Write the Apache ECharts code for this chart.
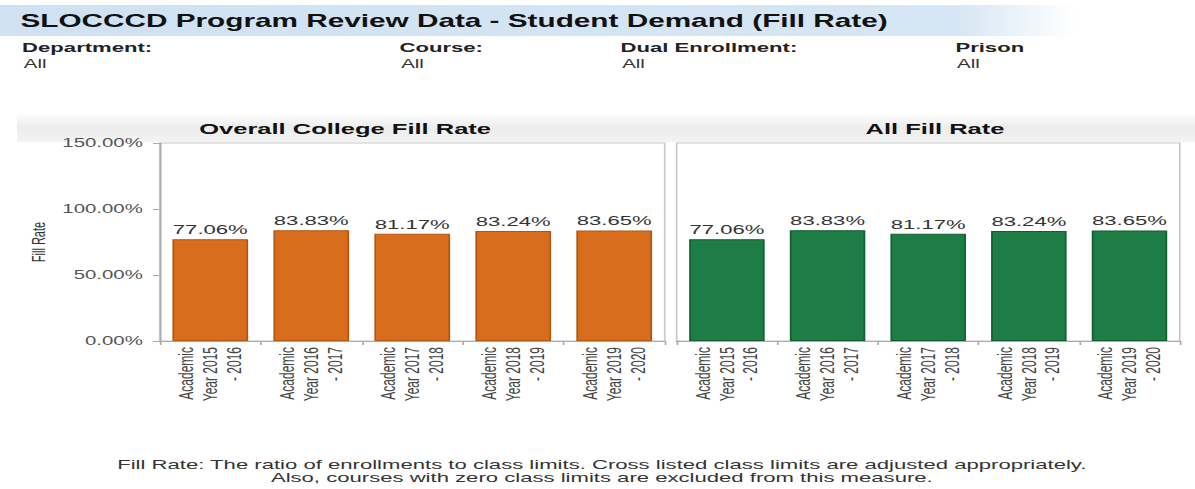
<!DOCTYPE html>
<html>
<head>
<meta charset="utf-8">
<script src="https://cdn.jsdelivr.net/npm/echarts@6/dist/echarts.min.js"></script>
<style>
html, body { margin: 0; padding: 0; background: #fff; overflow: hidden; }
/* the reference is a screenshot stretched sideways, so draw narrow and widen */
#main { width: 703px; height: 489px; transform: scaleX(1.7); transform-origin: 0 0; }
</style>
</head>
<body>
<div id="main"></div>
<script>
var categories = ['Academic Year 2015 - 2016', 'Academic Year 2016 - 2017', 'Academic Year 2017 - 2018',
                  'Academic Year 2018 - 2019', 'Academic Year 2019 - 2020'];
var collegeFillRate = [77.06, 83.83, 81.17, 83.24, 83.65];
var allFillRate = [77.06, 83.83, 81.17, 83.24, 83.65];
var yTicks = [0, 50, 100, 150];
var filterNames = ['Department:', 'Course:', 'Dual Enrollment:', 'Prison'];
var filterValues = ['All', 'All', 'All', 'All'];

var filterX = [13, 235, 365, 562];
var font = 'Liberation Sans, Arial, sans-serif';

var chart = echarts.init(document.getElementById('main'), null, { renderer: 'svg' });

function catLabel(v) {
	return v.replace(' Year', '\nYear').replace(' - ', '\n- ');
}

var graphics = [
	{
		type: 'rect', shape: { x: 0, y: 5, width: 703, height: 31 }, z: -1,
		style: { fill: new echarts.graphic.LinearGradient(0, 0, 1, 0, [
			{ offset: 0, color: '#cfe1f2' },
			{ offset: 0.8, color: '#d6e6f4' },
			{ offset: 0.9, color: '#ffffff' }
		]) }
	},
	{
		type: 'text', x: 12, y: 21,
		style: { text: 'SLOCCCD Program Review Data - Student Demand (Fill Rate)', font: 'bold 17.5px ' + font,
			fill: '#111', verticalAlign: 'middle' }
	},
	// soft grey band behind both panel titles
	{
		type: 'rect', shape: { x: 10, y: 113, width: 693, height: 29 }, z: -1,
		style: { fill: new echarts.graphic.LinearGradient(0, 0, 0, 1, [
			{ offset: 0, color: '#ffffff' },
			{ offset: 0.5, color: '#ececec' },
			{ offset: 1, color: '#f3f3f3' }
		]) }
	},
	{
		type: 'text', x: 203, y: 129,
		style: { text: 'Overall College Fill Rate', font: 'bold 15px ' + font, fill: '#111',
			align: 'center', verticalAlign: 'middle' }
	},
	{
		type: 'text', x: 550, y: 129,
		style: { text: 'All Fill Rate', font: 'bold 15px ' + font, fill: '#111',
			align: 'center', verticalAlign: 'middle' }
	},
	{
		type: 'text', x: 354, y: 471,
		style: { text: 'Fill Rate: The ratio of enrollments to class limits. Cross listed class limits are adjusted appropriately.\nAlso, courses with zero class limits are excluded from this measure.',
			font: '13px ' + font, fill: '#333', align: 'center', verticalAlign: 'middle', lineHeight: 13 }
	}
];

for (var i = 0; i < filterNames.length; i++) {
	graphics.push({
		type: 'text', x: filterX[i], y: 48,
		style: { text: filterNames[i], font: 'bold 13px ' + font, fill: '#222', verticalAlign: 'middle' }
	});
	graphics.push({
		type: 'text', x: filterX[i] + 1, y: 64,
		style: { text: filterValues[i], font: '12px ' + font, fill: '#333', verticalAlign: 'middle' }
	});
}

function xAxisFor(idx) {
	return {
		type: 'category',
		gridIndex: idx,
		data: categories,
		axisLine: { lineStyle: { color: '#aaa' } },
		axisTick: { show: true, length: 4, lineStyle: { color: '#aaa' } },
		axisLabel: {
			rotate: 90, interval: 0, margin: 6,
			fontFamily: font, fontSize: 12, lineHeight: 14, color: '#444',
			formatter: catLabel
		}
	};
}

function barSeries(idx, data, color, border) {
	return {
		type: 'bar',
		xAxisIndex: idx,
		yAxisIndex: idx,
		data: data,
		barWidth: '75%',
		itemStyle: { color: color, borderColor: border, borderWidth: 1 },
		label: {
			show: true, position: 'top', distance: 3,
			fontFamily: font, fontSize: 13, color: '#333',
			formatter: function (p) { return p.value.toFixed(2) + '%'; }
		}
	};
}

var option = {
	backgroundColor: '#fff',
	animation: false,
	graphic: graphics,
	grid: [
		{ left: 94, top: 143, width: 297, height: 198, show: true, borderColor: '#c8c8c8', backgroundColor: '#fff' },
		{ left: 398, top: 143, width: 296, height: 198, show: true, borderColor: '#c8c8c8', backgroundColor: '#fff' }
	],
	xAxis: [xAxisFor(0), xAxisFor(1)],
	yAxis: [
		{
			type: 'value', gridIndex: 0,
			min: yTicks[0], max: yTicks[yTicks.length - 1], interval: yTicks[1] - yTicks[0],
			name: 'Fill Rate', nameLocation: 'middle', nameGap: 66,
			nameTextStyle: { fontFamily: font, fontSize: 11, color: '#333' },
			axisLine: { show: true, lineStyle: { color: '#aaa' } },
			axisTick: { show: true, length: 4, lineStyle: { color: '#aaa' } },
			splitLine: { show: false },
			axisLabel: {
				margin: 10, fontFamily: font, fontSize: 12, color: '#555',
				formatter: function (v) { return v.toFixed(2) + '%'; }
			}
		},
		{
			type: 'value', gridIndex: 1,
			min: yTicks[0], max: yTicks[yTicks.length - 1], interval: yTicks[1] - yTicks[0],
			axisLine: { show: false },
			axisTick: { show: false },
			splitLine: { show: false },
			axisLabel: { show: false }
		}
	],
	series: [
		barSeries(0, collegeFillRate, '#d86d1d', '#b5560f'),
		barSeries(1, allFillRate, '#1e7d44', '#0f5f31')
	]
};

chart.setOption(option);
</script>
</body>
</html>
